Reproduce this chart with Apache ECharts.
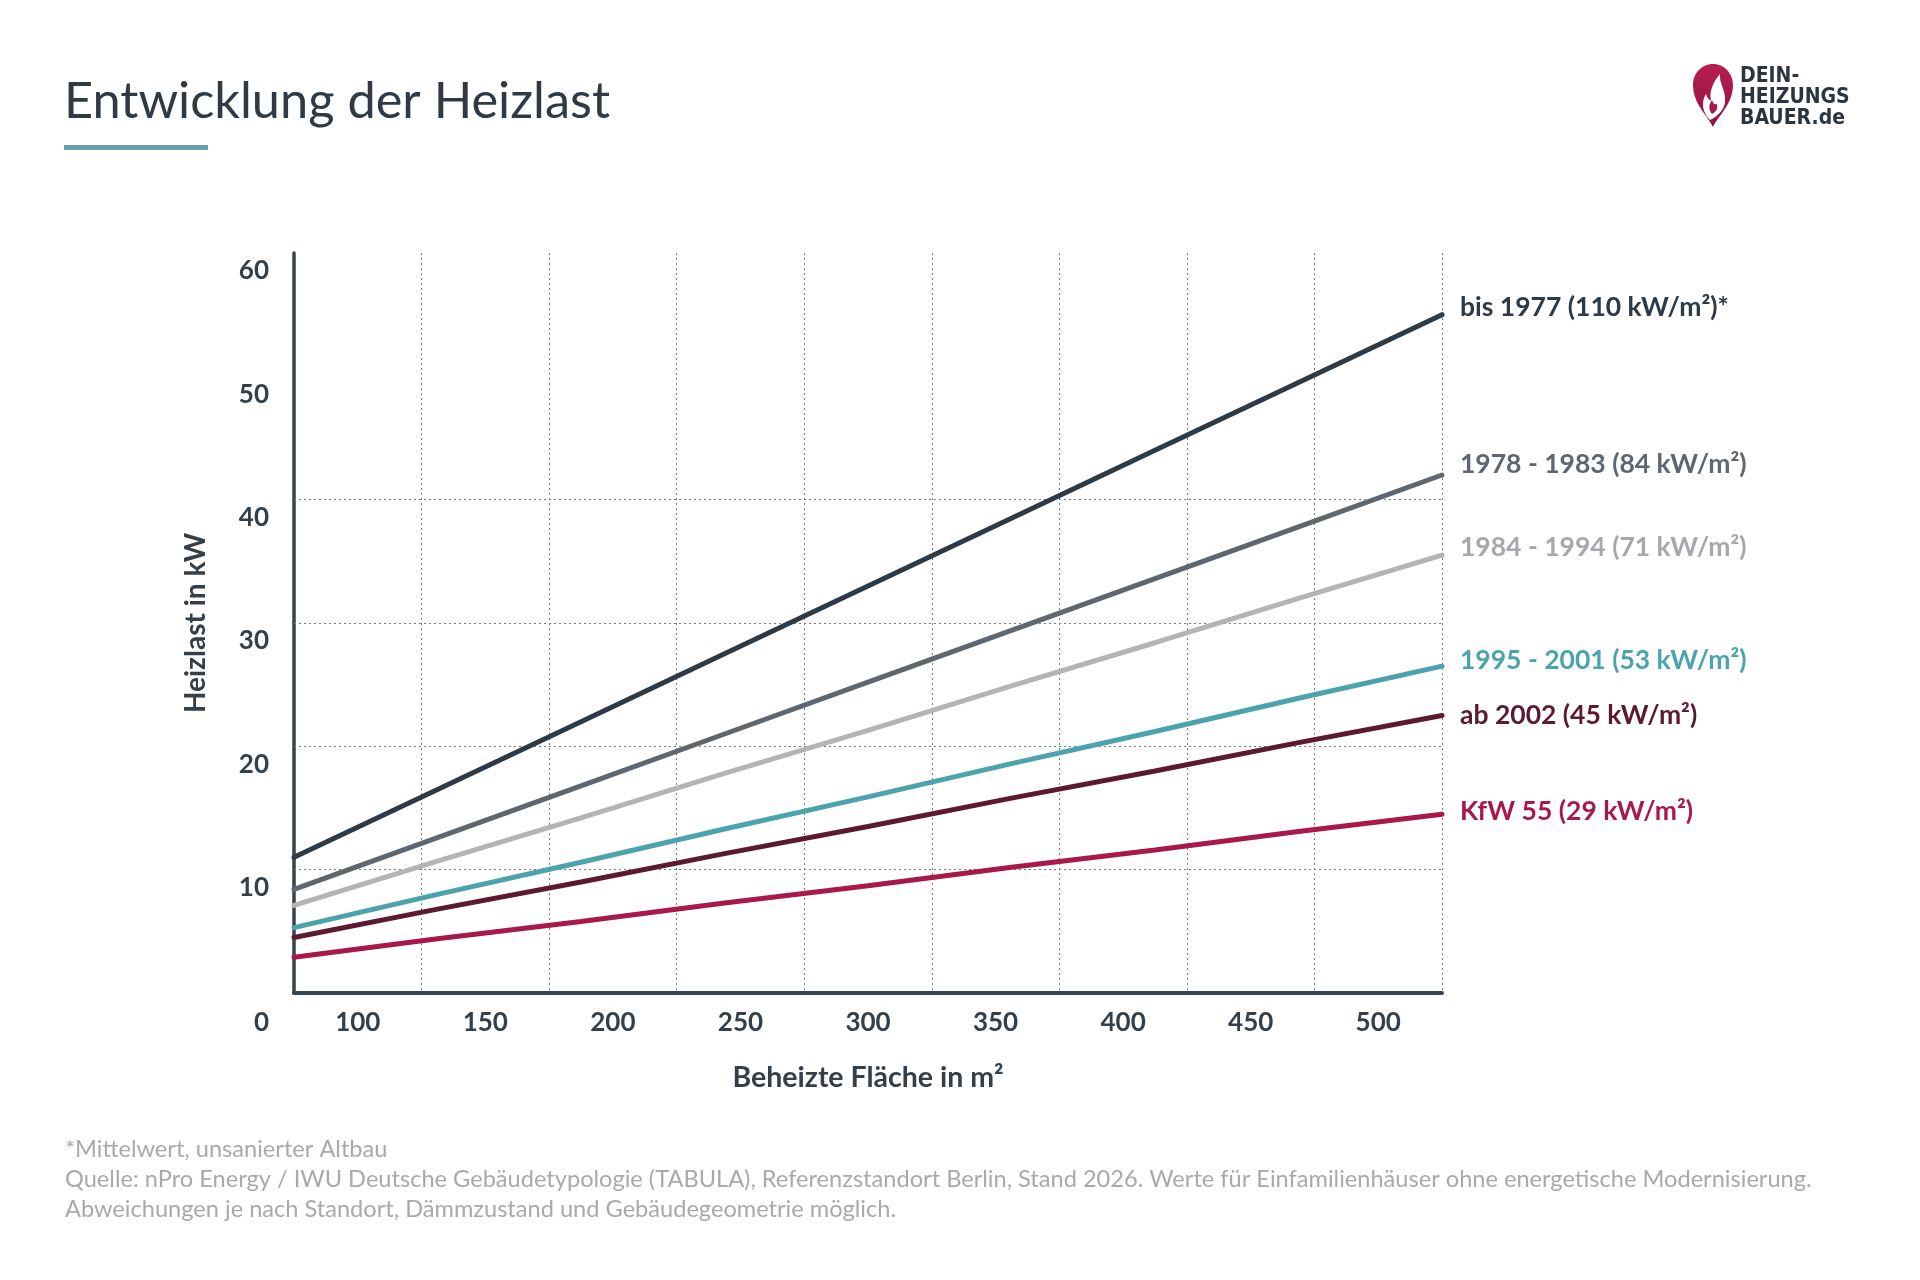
<!DOCTYPE html>
<html>
<head>
<meta charset="utf-8">
<title>Entwicklung der Heizlast</title>
<script src="https://cdn.jsdelivr.net/npm/echarts@6/dist/echarts.min.js"></script>
<style>
  html, body { margin: 0; padding: 0; background: #fff; }
  #chart { width: 1920px; height: 1280px; }
</style>
</head>
<body>
<div id="chart"></div>
<script>
// tick labels of the area axis (one label per band)
const areaLabels = ['100', '150', '200', '250', '300', '350', '400', '450', '500']
// heated area in m² for the data points
const areas = [100, 150, 200, 250, 300, 350, 400, 450, 500]
// heating load in kW
const bis1977 = [11, 16.5, 22, 27.5, 33, 38.5, 44, 49.5, 55]
const y1978 = [8.4, 12.6, 16.8, 21, 25.2, 29.4, 33.6, 37.8, 42]
const y1984 = [7.1, 10.7, 14.2, 17.8, 21.3, 24.9, 28.4, 32, 35.5]
const y1995 = [5.3, 8, 10.6, 13.3, 15.9, 18.6, 21.2, 23.9, 26.5]
const y2002 = [4.5, 6.8, 9, 11.3, 13.5, 15.8, 18, 20.3, 22.5]
const kfw55 = [2.9, 4.4, 5.8, 7.3, 8.7, 10.2, 11.6, 13.1, 14.5]
// horizontal guide lines that are drawn (kW)
const gridValues = [10, 20, 30, 40]

const seriesNames = [
  'bis 1977 (110 kW/m²)*',
  '1978 - 1983 (84 kW/m²)',
  '1984 - 1994 (71 kW/m²)',
  '1995 - 2001 (53 kW/m²)',
  'ab 2002 (45 kW/m²)',
  'KfW 55 (29 kW/m²)'
]
const seriesValues = [bis1977, y1978, y1984, y1995, y2002, kfw55]
const colors = ['#2d3a47', '#5f666e', '#b2b4b6', '#4ba3ae', '#5b1a30', '#a8184b']
const labelColors = ['#2d3a47', '#5f666e', '#a6a8ab', '#4ba3ae', '#5b1a30', '#a8184b']
const labelDy = [-7, -11, -8, -6, 0, -3]

const dark = '#333f4a'
const font = 'Lato'
const dotted = { color: '#7a7a7a', type: [2, 3], width: 1 }

// logo shapes
echarts.graphic.registerShape('logoPin', echarts.graphic.extendPath(
  'M20 63 C15 52 0 40 0 21 C0 9 9 0 20 0 C31 0 40 9 40 21 C40 40 25 52 20 63 Z'))
echarts.graphic.registerShape('logoFlame', echarts.graphic.extendPath(
  'M17 56 C9 48 8 38 13 30 C14 34 16 36 18 36 C16 28 20 18 27 10 C26 20 33 26 32 38 C31 46 25 52 17 56 Z'))
echarts.graphic.registerShape('logoCore', echarts.graphic.extendPath(
  'M19 50 C15 45 16 40 19 36 C20 40 22 41 24 40 C25 45 23 48 19 50 Z'))

const chart = echarts.init(document.getElementById('chart'))

const lineSeries = seriesNames.map((name, i) => ({
  name: name,
  type: 'line',
  xAxisIndex: 1,
  yAxisIndex: 0,
  data: areas.map((a, j) => [a, seriesValues[i][j]]),
  symbol: 'none',
  z: 5,
  lineStyle: { color: colors[i], width: 5, cap: 'round' },
  endLabel: {
    show: true,
    formatter: '{a}',
    distance: 18,
    offset: [0, labelDy[i]],
    color: labelColors[i],
    fontFamily: font,
    fontWeight: 'bold',
    fontSize: 26.5
  },
  silent: true
}))

// empty series that only carries the dotted horizontal guides
lineSeries.unshift({
  type: 'line',
  xAxisIndex: 1,
  yAxisIndex: 0,
  data: [],
  z: 1,
  markLine: {
    silent: true,
    symbol: 'none',
    label: { show: false },
    lineStyle: dotted,
    data: gridValues.map(v => ({ yAxis: v }))
  }
})

const footLines = [
  '*Mittelwert, unsanierter Altbau',
  'Quelle: nPro Energy / IWU Deutsche Gebäudetypologie (TABULA), Referenzstandort Berlin, Stand 2026. Werte für Einfamilienhäuser ohne energetische Modernisierung.',
  'Abweichungen je nach Standort, Dämmzustand und Gebäudegeometrie möglich.'
]

const logoText = { fill: '#2b3540', fontFamily: 'DejaVu Sans Condensed', fontWeight: 'bold', fontSize: 21, textVerticalAlign: 'middle' }

const option = {
  backgroundColor: '#fff',
  animation: false,
  grid: { left: 294, right: 478, top: 253, bottom: 287 },
  xAxis: [
    {
      type: 'category',
      data: areaLabels,
      boundaryGap: true,
      name: 'Beheizte Fläche in m²',
      nameLocation: 'middle',
      nameGap: 70,
      nameTextStyle: { color: dark, fontFamily: font, fontWeight: 'bold', fontSize: 28.5 },
      axisLine: { show: true, lineStyle: { color: '#36424d', width: 4 } },
      axisTick: { show: false },
      axisLabel: { margin: 17, color: dark, fontFamily: font, fontWeight: 'bold', fontSize: 26 },
      splitLine: { show: true, lineStyle: dotted }
    },
    { type: 'value', min: 100, max: 500, show: false, splitLine: { show: false } }
  ],
  yAxis: {
    type: 'value',
    min: 0,
    max: 60,
    interval: 10,
    name: 'Heizlast in kW',
    nameLocation: 'middle',
    nameGap: 84,
    nameTextStyle: { color: dark, fontFamily: font, fontWeight: 'bold', fontSize: 28 },
    axisLine: { show: true, lineStyle: { color: '#36424d', width: 3.5 } },
    axisTick: { show: false },
    splitLine: { show: false },
    axisLabel: {
      margin: 25,
      color: dark,
      fontFamily: font,
      fontWeight: 'bold',
      fontSize: 26,
      formatter: v => v === 0 ? '{z|0}' : '{n|' + v + '}',
      rich: {
        n: { padding: [36, 0, 0, 0] },
        z: { padding: [60, 0, 0, 0] }
      }
    }
  },
  series: lineSeries,
  graphic: [
    {
      type: 'text',
      x: 64, y: 102,
      style: {
        text: 'Entwicklung der Heizlast',
        fill: '#2f3a45',
        fontFamily: font,
        fontSize: 50.5,
        textVerticalAlign: 'middle'
      }
    },
    { type: 'rect', shape: { x: 64, y: 145, width: 144, height: 5 }, style: { fill: '#6a9fad' } },
    {
      type: 'group',
      x: 1693, y: 64,
      children: [
        {
          type: 'logoPin',
          style: {
            fill: new echarts.graphic.LinearGradient(0, 0, 0, 1, [
              { offset: 0, color: '#b81e50' },
              { offset: 1, color: '#8f1342' }
            ])
          }
        },
        { type: 'logoFlame', style: { fill: '#fff' } },
        { type: 'logoCore', style: { fill: '#a8184b' } }
      ]
    },
    { type: 'text', x: 1740, y: 77, style: Object.assign({ text: 'DEIN-' }, logoText) },
    { type: 'text', x: 1740, y: 98, style: Object.assign({ text: 'HEIZUNGS' }, logoText) },
    { type: 'text', x: 1740, y: 119, style: Object.assign({ text: 'BAUER.de' }, logoText) }
  ].concat(footLines.map((t, i) => ({
    type: 'text',
    x: 65,
    y: 1149 + i * 30,
    style: { text: t, fill: '#a9a9a9', fontFamily: font, fontSize: 23.6, textVerticalAlign: 'middle' }
  })))
}

chart.setOption(option)
</script>
</body>
</html>
